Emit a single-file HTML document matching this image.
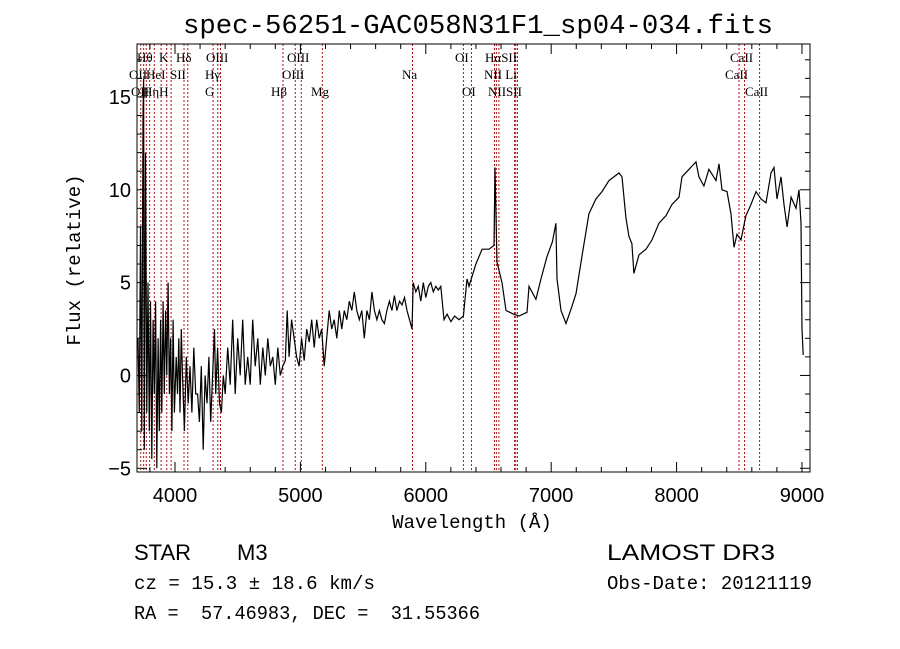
<!DOCTYPE html>
<html><head><meta charset="utf-8"><style>
html,body{margin:0;padding:0;background:#fff;}
svg{display:block;}
.mono{font-family:"Liberation Mono",monospace;}
.sans{font-family:"Liberation Sans",sans-serif;}
.serif{font-family:"Liberation Serif",serif;}
</style></head><body>
<svg id="chart" width="900" height="649" viewBox="0 0 900 649" xmlns="http://www.w3.org/2000/svg">
<rect width="900" height="649" fill="#fff"/>
<text x="478" y="33" text-anchor="middle" class="mono" font-size="27" textLength="590" lengthAdjust="spacingAndGlyphs">spec-56251-GAC058N31F1_sp04-034.fits</text>
<g id="lines"></g>
<g id="labels" class="serif" font-size="13"></g>
<path id="spec" fill="none" stroke="#000" stroke-width="1.2"/>
<rect x="137" y="44" width="673" height="428" fill="none" stroke="#000" stroke-width="1"/>
<g id="axes"></g>
<text x="472" y="528" text-anchor="middle" class="mono" font-size="19">Wavelength (Å)</text>
<text transform="translate(80,260) rotate(-90)" text-anchor="middle" class="mono" font-size="19">Flux (relative)</text>
<text x="134" y="560" class="sans" font-size="22">STAR</text>
<text x="237" y="560" class="sans" font-size="22">M3</text>
<text x="607" y="560" class="sans" font-size="22" textLength="168" lengthAdjust="spacingAndGlyphs">LAMOST DR3</text>
<text x="134" y="589" class="mono" font-size="19" textLength="241" lengthAdjust="spacingAndGlyphs">cz = 15.3 ± 18.6 km/s</text>
<text x="607" y="589" class="mono" font-size="19" textLength="205" lengthAdjust="spacingAndGlyphs">Obs-Date: 20121119</text>
<text x="134" y="619" class="mono" font-size="19" xml:space="preserve" textLength="346" lengthAdjust="spacingAndGlyphs">RA =  57.46983, DEC =  31.55366</text>
</svg>
<script>
const wavelengths=[3705,3715,3725,3735,3745,3750,3755,3765,3775,3785,3795,3805,3815,3825,3835,3845,3855,3865,3875,3885,3895,3905,3915,3925,3935,3945,3955,3965,3975,3985,3995,4010,4020,4030,4040,4050,4060,4075,4090,4105,4120,4135,4150,4165,4180,4195,4210,4225,4240,4255,4270,4285,4300,4315,4325,4340,4355,4370,4385,4400,4420,4440,4460,4480,4500,4520,4540,4560,4580,4600,4620,4640,4660,4680,4700,4720,4740,4760,4780,4800,4820,4840,4860,4880,4895,4910,4930,4950,4970,4990,5010,5030,5050,5070,5090,5110,5130,5150,5170,5190,5210,5230,5250,5270,5290,5310,5330,5350,5370,5390,5410,5430,5450,5470,5490,5510,5530,5550,5570,5590,5610,5630,5650,5670,5690,5710,5730,5750,5770,5790,5810,5830,5850,5870,5890,5900,5920,5940,5960,5980,6000,6020,6040,6060,6080,6100,6120,6145,6170,6200,6230,6265,6300,6329,6345,6400,6449,6504,6544,6552,6568,6608,6640,6700,6743,6807,6823,6878,6919,6967,7010,7038,7046,7078,7118,7160,7198,7245,7301,7357,7405,7461,7541,7565,7596,7620,7644,7660,7700,7756,7804,7860,7915,7963,8019,8043,8099,8155,8178,8218,8258,8314,8338,8362,8402,8434,8458,8482,8514,8553,8593,8633,8673,8713,8753,8777,8801,8833,8857,8881,8913,8952,8976,8992,9000,9010];
const fluxes=[2,-2,8,-3,14,16,-4,12,-2,5,-3,4,-4.5,3,-1,4,-5,2,-3,3,-2,4,-1,3.5,0,5,-1,2,-3,3,-2,1,-1,2,-2,2.5,0,-3,1,-1.5,0.5,-2,1.5,-1,-1,-2.5,0.5,-4,0,-1.5,1,-2.5,0,2.5,-1,1.5,-1.5,-2,0,-1,1.5,-0.5,3,-1,2,0,3,-0.5,1,-0.5,3,0.5,2,-0.5,1.5,0,2,0.5,1,-0.5,1.5,0,0.5,0.8,3.5,1,3,2,1,0.5,2,0.8,2.5,1.8,3,1.5,3,2,2.5,0.5,2,3.5,2.5,3,2,3.5,2.5,3.5,3,4,3.5,4.5,3.5,3,3.5,2,3.5,3,4.5,3.5,3,3.5,3,2.8,3.5,4,3.5,4.3,3.5,4,3.8,4.2,3.5,3,2.5,5,4.5,4.8,4,5,4.2,4.8,5,4.5,4.8,4.6,4.8,3,3.3,2.9,3.2,3,3.2,5.2,4.8,6,6.8,6.8,7,11.2,6.1,5,3.5,3.3,3.2,3.4,4.8,4.1,5.2,6.4,7.2,8.2,5.2,3.5,2.8,3.6,4.4,6.4,8.7,9.5,9.9,10.5,10.9,10.7,8.5,7.5,7.1,5.5,6.5,6.8,7.3,8.2,8.6,9.2,9.6,10.7,11.1,11.5,10.7,10.2,11.1,10.5,11.4,10,9.9,8.7,6.9,7.6,7.3,8.6,9.2,9.9,9.5,9.3,10.9,11.2,9.5,10.7,9.2,8,9.6,9,10,8.2,2.5,1.1];
const lineWaves=[3727,3750,3771,3798,3835,3889,3934,3969,4072,4102,4304,4341,4363,4861,4959,5007,5175,5894,6300,6364,6548,6563,6583,6708,6717,6731,8498,8542,8662];
const labelTexts=["Hθ","K","Hδ","OIII","OIII","OI","HαSII","CaII","OII","HeI","SII","Hγ","OIII","Na","NII Li","CaII","OII","HηH","G","Hβ","Mg","OI","NIISII","CaII"];
const labelX=[137,159,176,206,287,455,485,730,129,146,170,205,282,402,484,725,131,143,205,271,311,462,488,745];
const labelRow=[0,0,0,0,0,0,0,0,1,1,1,1,1,1,1,1,2,2,2,2,2,2,2,2];
const xTicks=[4000,5000,6000,7000,8000,9000];
const yTicks=[-5,0,5,10,15];
const X0=137,X1=810,Y0=44,Y1=472,WMIN=3697,WMAX=9064,FMIN=-5.2,FMAX=17.85;
function sx(w){return X0+(w-WMIN)/(WMAX-WMIN)*(X1-X0);}
function sy(f){return Y1-(f-FMIN)/(FMAX-FMIN)*(Y1-Y0);}
const NS="http://www.w3.org/2000/svg";
function mk(t,a,p){const e=document.createElementNS(NS,t);for(const k in a)e.setAttribute(k,a[k]);p.appendChild(e);return e;}
let d="";
wavelengths.forEach((w,i)=>{d+=(i?"L":"M")+sx(w).toFixed(1)+","+sy(fluxes[i]).toFixed(1);});
document.getElementById("spec").setAttribute("d",d);
const lg=document.getElementById("lines");
lineWaves.forEach(w=>{
  const l=mk("line",{x1:sx(w),x2:sx(w),y1:Y0,y2:Y1,stroke:"#b01010","stroke-width":1,"stroke-dasharray":"2,2"},lg);
  
  
});
const lb=document.getElementById("labels");
labelTexts.forEach((t,i)=>{
  const e=mk("text",{x:labelX[i],y:62+labelRow[i]*17},lb);e.textContent=t;
  
  
});
const ax=document.getElementById("axes");
for(let w=3800;w<=9000;w+=200){
  const maj=w%1000===0, L=maj?10:5;
  mk("line",{x1:sx(w),x2:sx(w),y1:Y1,y2:Y1-L,stroke:"#000"},ax);
  mk("line",{x1:sx(w),x2:sx(w),y1:Y0,y2:Y0+L,stroke:"#000"},ax);
}
xTicks.forEach(w=>{
  const t=mk("text",{x:sx(w),y:Y1+30,"text-anchor":"middle","font-size":"20","font-family":"Liberation Sans, sans-serif"},ax);t.textContent=w;
  
  
});
for(let f=-5;f<=17;f+=1){
  const maj=f%5===0,L=maj?10:5;
  mk("line",{x1:X0,x2:X0+L,y1:sy(f),y2:sy(f),stroke:"#000"},ax);
  mk("line",{x1:X1,x2:X1-L,y1:sy(f),y2:sy(f),stroke:"#000"},ax);
}
yTicks.forEach(f=>{
  const t=mk("text",{x:X0-6,y:sy(f)+7,"text-anchor":"end","font-size":"20","font-family":"Liberation Sans, sans-serif"},ax);t.textContent=f<0?"−"+(-f):f;
  
  
});
</script>
</body></html>
